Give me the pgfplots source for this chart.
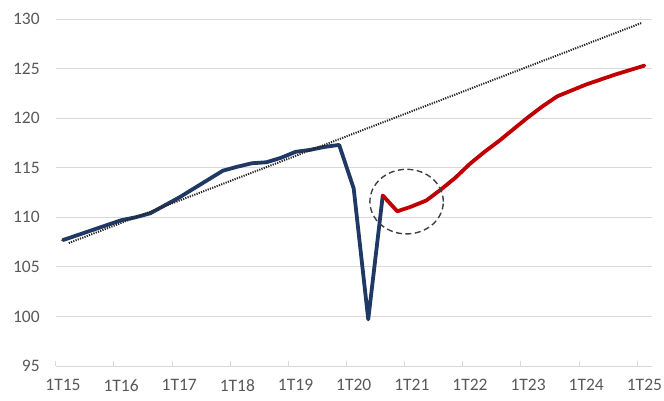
\documentclass[border=0pt]{standalone}
\usepackage{pgfplots}
\pgfplotsset{compat=1.18}
\usepackage{fontspec}
\setmainfont{Carlito}
\definecolor{navy}{HTML}{203864}
\definecolor{dred}{HTML}{C00000}
\definecolor{gridgray}{HTML}{D9D9D9}
\definecolor{labgray}{HTML}{595959}
\begin{document}
\begin{tikzpicture}
\path[use as bounding box] (-55.7pt,-35pt) rectangle (608.3pt,366pt);
\begin{axis}[
  at={(0,0)}, anchor=south west,
  scale only axis, width=596pt, height=347pt,
  xmin=-0.5, xmax=40.5, ymin=95, ymax=130,
  axis line style={draw=none},
  ytick={95,100,...,130},
  ytick style={draw=none},
  ymajorgrids,
  grid style={draw=gridgray, line width=0.9pt},
  xtick={-0.5,3.5,...,39.5},
  xticklabels={1T15,1T16,1T17,1T18,1T19,1T20,1T21,1T22,1T23,1T24,1T25},
  xtick pos=lower,
  tick align=inside,
  major tick length=5pt,
  xtick style={draw=gridgray, line width=0.9pt},
  /pgf/number format/assume math mode=true,
  tick label style={font=\fontsize{17.5}{17.5}\selectfont, text=labgray},
  xticklabel style={xshift=7.27pt, yshift=-10pt},
  yticklabel style={xshift=-12.5pt},
  clip=false,
]
\addplot[navy, line width=3.8pt, line join=round, line cap=round] coordinates {
(0,107.7)(1,108.2)(2,108.7)(3,109.2)(4,109.7)(5,110.0)(6,110.4)(7,111.2)(8,112.0)(9,112.9)(10,113.8)(11,114.7)(12,115.1)(13,115.45)(14,115.55)(15,116.0)(16,116.6)(17,116.8)(18,117.1)(19,117.3)(20,112.9)(21,99.7)(22,112.2)
};
\addplot[dred, line width=3.8pt, line join=round, line cap=round] coordinates {
(22,112.2)(23,110.6)(24,111.1)(25,111.7)(26,112.8)(27,114.0)(28,115.4)(29,116.6)(30,117.7)(31,118.9)(32,120.1)(33,121.2)(34,122.2)(35,122.8)(36,123.4)(37,123.9)(38,124.4)(39,124.85)(40,125.3)
};
\addplot[black!85, line width=2pt, dash pattern=on 1.2pt off 1.2pt] coordinates {
(0.4,107.4)(39.8,129.6)
};
\draw[black!75, line width=1.4pt, dash pattern=on 6pt off 3.5pt] (axis cs:23.64,111.58) ellipse [x radius=36.7pt, y radius=32.3pt];
\end{axis}
\end{tikzpicture}
\end{document}
